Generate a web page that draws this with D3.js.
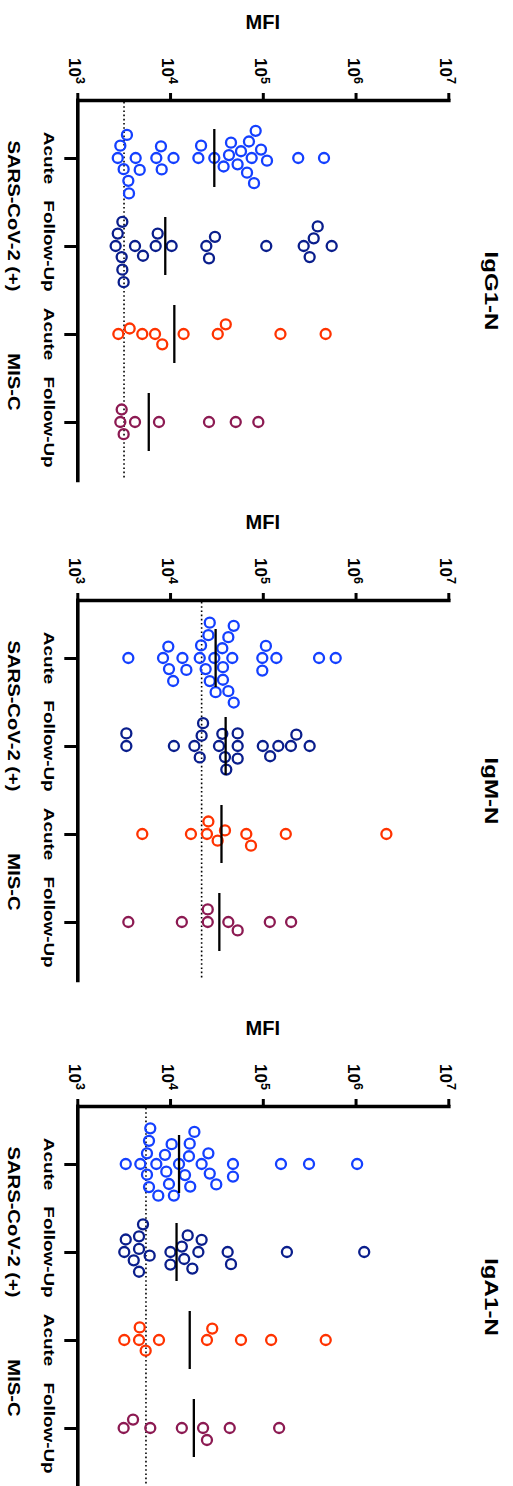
<!DOCTYPE html>
<html><head><meta charset="utf-8">
<script src="https://cdn.jsdelivr.net/npm/d3@7"></script>
<style>
body{margin:0;background:#fff;}
svg{display:block;font-family:"Liberation Sans",Arial,Helvetica,sans-serif;font-weight:bold;}
</style></head><body>
<svg id="chart" width="513" height="1486"></svg>
<script>
// ---------- data ----------
const groupKeys = ["SARS Acute", "SARS Follow-Up", "MIS-C Acute", "MIS-C Follow-Up"];
const groupTickLabels = ["Acute", "Follow-Up", "Acute", "Follow-Up"];
const cohortLabels = ["SARS-CoV-2 (+)", "MIS-C"];
const panelTitles = ["IgG1-N", "IgM-N", "IgA1-N"];
const axisTitle = "MFI";
const tickValues = [1e3, 1e4, 1e5, 1e6, 1e7];
const tickBase = "10";
const tickExponents = ["3", "4", "5", "6", "7"];

// IgG1-N
const igg1SarsAcute = [2730, 2910, 3160, 3430, 3550, 3610, 4260, 4710, 7110, 7980, 8130, 10900, 20200, 21600, 30000, 37800, 43200, 45400, 53500, 58200, 67600, 70900, 75900, 80400, 83800, 95700, 111000, 241000, 457000];
const igg1SarsFollow = [2590, 2730, 3010, 3060, 3060, 3160, 4190, 5110, 7000, 7360, 10400, 24600, 26300, 30500, 109000, 276000, 320000, 354000, 391000, 553000];
const igg1MiscAcute = [2770, 3670, 5020, 6890, 8240, 14000, 32700, 39900, 155000, 476000];
const igg1MiscFollow = [2910, 3010, 3160, 4190, 7600, 26300, 51100, 89500];
// IgM-N
const igmSarsAcute = [3550, 8400, 9580, 9740, 10800, 13600, 15000, 20900, 21600, 24200, 25900, 26800, 26800, 30000, 31000, 36600, 37200, 37200, 42500, 42500, 46900, 48600, 48600, 98800, 98800, 108000, 140000, 404000, 611000];
const igmSarsFollow = [3380, 3380, 11000, 18300, 20900, 21900, 22700, 33700, 36600, 39100, 40400, 53600, 53600, 53600, 100000, 120000, 147000, 201000, 230000, 320000];
const igmMiscAcute = [5020, 16800, 25000, 25900, 32600, 39100, 66400, 74600, 177000, 2150000];
const igmMiscFollow = [3550, 13400, 25500, 25500, 42500, 53600, 119000, 202000];
// IgA1-N
const iga1SarsAcute = [3330, 4780, 5640, 5640, 5930, 5930, 6120, 7110, 7470, 8820, 9110, 9740, 10400, 11000, 12500, 14500, 16000, 16300, 16500, 18300, 21900, 25900, 26800, 31500, 47700, 47700, 157000, 315000, 1040000];
const iga1SarsFollow = [3210, 3330, 4060, 4630, 4630, 4630, 5110, 6030, 10100, 10100, 13400, 14200, 15500, 17400, 20200, 21900, 41800, 45400, 182000, 1240000];
const iga1MiscAcute = [3210, 4630, 4710, 5460, 7600, 25000, 28500, 58200, 123000, 477000];
const iga1MiscFollow = [3160, 3990, 6120, 13400, 22700, 25000, 44000, 150000];

// cutoff (dotted line) per panel
const cutoffs = [3190, 21900, 5500];

// ---------- styling / layout ----------
const groupColors = ["#1440ff", "#0a1e8c", "#ff3300", "#8c1a52"];
const panelSeries = [
  [igg1SarsAcute, igg1SarsFollow, igg1MiscAcute, igg1MiscFollow],
  [igmSarsAcute, igmSarsFollow, igmMiscAcute, igmMiscFollow],
  [iga1SarsAcute, iga1SarsFollow, iga1MiscAcute, iga1MiscFollow]
];
const panelTops = [0, 500, 1006];
const axisY = 100, axisBottom = 480;
const xLeft = 77.3, xRight = 448.3;
const R = 5.0, SW = 2.3, D = 12.6;
const cohortShift = [14, 4];

const svg = d3.select("#chart");

function swarm(xs, dist) {
  const idx = d3.range(xs.length).sort((a, b) => xs[a] - xs[b]);
  const placed = [], out = new Array(xs.length);
  let flip = 1;
  for (const i of idx) {
    const xi = xs[i];
    const ints = [];
    for (const p of placed) {
      const dx = Math.abs(p.x - xi);
      if (dx < dist) { const h = Math.sqrt(dist * dist - dx * dx); ints.push([p.y - h, p.y + h]); }
    }
    const cands = [0];
    ints.forEach(([a, b]) => cands.push(a, b));
    cands.sort((a, b) => (Math.abs(a) - Math.abs(b)) || (flip * (a - b)));
    let yy = 0;
    for (const c of cands) {
      if (ints.every(([a, b]) => c <= a + 1e-6 || c >= b - 1e-6)) { yy = c; break; }
    }
    if (yy !== 0) flip = -flip;
    placed.push({x: xi, y: yy});
    out[i] = yy;
  }
  return out;
}

function rotText(sel, x, y, str, size, sx, anchor) {
  return sel.append("text")
    .attr("transform", `translate(${x},${y}) rotate(90) scale(${sx},1)`)
    .attr("text-anchor", anchor)
    .attr("font-size", size)
    .attr("fill", "#000")
    .text(str);
}

panelSeries.forEach((series, pi) => {
  const g = svg.append("g").attr("transform", `translate(0,${panelTops[pi]})`);
  const x = d3.scaleLog().domain([1e3, 1e7]).range([xLeft, xRight]);
  const y = d3.scalePoint().domain(groupKeys).range([axisY, axisBottom]).padding(0.659);

  // MFI title
  g.append("text").attr("x", (xLeft + xRight) / 2).attr("y", 29)
    .attr("text-anchor", "middle").attr("font-size", 20).text(axisTitle);

  // top (value) axis
  const ax = g.append("g").attr("transform", `translate(0,${axisY})`)
    .call(d3.axisTop(x).tickValues(tickValues).tickSize(7).tickSizeOuter(0).tickFormat(() => ""));
  ax.select(".domain").attr("stroke-width", 3.6).attr("stroke-linecap", "square");
  ax.selectAll(".tick line").attr("stroke-width", 3);
  ax.selectAll(".tick text").remove();
  tickValues.forEach((v, i) => {
    const t = g.append("text")
      .attr("transform", `translate(${x(v) - 8},58) rotate(90)`)
      .attr("font-size", 17).attr("text-anchor", "start");
    t.append("tspan").text(tickBase);
    t.append("tspan").attr("dy", -6.5).attr("font-size", 12.5).text(tickExponents[i]);
  });

  // left (category) axis
  const ay = g.append("g").attr("transform", `translate(${xLeft},0)`)
    .call(d3.axisLeft(y).tickSize(13).tickSizeOuter(0).tickFormat(() => ""));
  ay.select(".domain").attr("stroke-width", 3.6).attr("stroke-linecap", "square");
  ay.selectAll(".tick line").attr("stroke-width", 3);

  groupKeys.forEach((k, i) => rotText(g, 44, y(k), groupTickLabels[i], 15.5, 1.22, "middle"));
  cohortLabels.forEach((lab, ci) => {
    const mid = (y(groupKeys[ci * 2]) + y(groupKeys[ci * 2 + 1])) / 2 + cohortShift[ci];
    rotText(g, 8, mid, lab, 17, 1.19, "middle");
  });

  // panel title
  rotText(g, 485, (axisY + axisBottom) / 2 + 1, panelTitles[pi], 19, 1.27, "middle");

  // cutoff dotted line
  g.append("line").attr("x1", x(cutoffs[pi])).attr("x2", x(cutoffs[pi]))
    .attr("y1", axisY + 2).attr("y2", axisBottom)
    .attr("stroke", "#000").attr("stroke-width", 1.6).attr("stroke-dasharray", "1.6,2.6");

  // points
  series.forEach((vals, gi) => {
    const xs = vals.map(v => x(v));
    const offs = swarm(xs, D);
    g.append("g").selectAll("circle").data(vals).join("circle")
      .attr("cx", (d, i) => xs[i])
      .attr("cy", (d, i) => y(groupKeys[gi]) + offs[i])
      .attr("r", R)
      .attr("fill", "none")
      .attr("stroke", groupColors[gi])
      .attr("stroke-width", SW);
    const med = d3.median(vals);
    g.append("line").attr("x1", x(med)).attr("x2", x(med))
      .attr("y1", y(groupKeys[gi]) - 29).attr("y2", y(groupKeys[gi]) + 29)
      .attr("stroke", "#000").attr("stroke-width", 2.3);
  });
});
</script>
</body></html>
